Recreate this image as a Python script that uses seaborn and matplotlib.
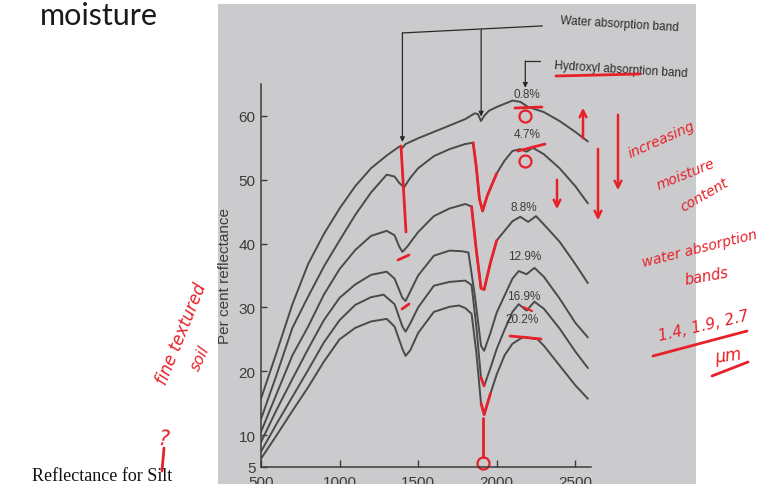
import pandas as pd
import matplotlib.pyplot as plt
import seaborn as sns
from matplotlib.lines import Line2D
from matplotlib.patches import Rectangle, FancyArrowPatch

# soil moisture curves (wavelength nm, % reflectance)
moisture = ["0.8%", "4.7%", "8.8%", "12.9%", "16.9%", "20.2%"]

wl_08 = [500, 600, 700, 800, 900, 1000, 1100, 1200, 1300, 1380, 1400, 1420, 1500, 1600, 1700,
         1800, 1860, 1880, 1900, 1920, 1950, 2000, 2100, 2150, 2200, 2250, 2300, 2400, 2500, 2580]
refl_08 = [15.7, 23, 30.5, 36.8, 41.5, 45.5, 49, 51.8, 53.8, 55.2, 55.0, 55.6, 56.5, 57.5, 58.5,
           59.5, 60.4, 60.3, 59.2, 60, 60.8, 61.4, 62.4, 62.2, 61.4, 61, 60.6, 59.2, 57.5, 56]

wl_47 = [500, 600, 700, 800, 900, 1000, 1100, 1200, 1300, 1350, 1380, 1410, 1450, 1500, 1600, 1700,
         1800, 1850, 1870, 1890, 1910, 1940, 2000, 2050, 2100, 2150, 2190, 2230, 2300, 2400, 2500, 2580]
refl_47 = [12.5, 19.5, 26.8, 31.7, 36.4, 40.5, 44.5, 48, 50.8, 50.5, 49.5, 48.8, 50.3, 51.8, 53.7, 54.8,
           55.6, 55.8, 52, 47, 45.1, 47.5, 51, 53, 54.5, 54.8, 54.4, 55, 54, 51.8, 49, 46.3]

wl_88 = [500, 600, 700, 800, 900, 1000, 1100, 1200, 1300, 1350, 1380, 1400, 1430, 1500, 1600, 1700,
         1800, 1840, 1870, 1900, 1920, 1960, 2000, 2100, 2150, 2200, 2250, 2300, 2400, 2500, 2580]
refl_88 = [10.5, 16.5, 22.5, 27, 32, 36, 39, 41.2, 42, 41.3, 39.5, 38.7, 39.5, 41.8, 44.3, 45.5,
           46.2, 45.8, 39, 33, 32.8, 37, 40.5, 43.5, 44.2, 43.4, 44.3, 43, 40.3, 36.8, 33.8]

wl_129 = [500, 600, 700, 800, 900, 1000, 1100, 1200, 1300, 1350, 1400, 1420, 1450, 1500, 1600, 1700,
          1780, 1820, 1860, 1900, 1920, 1960, 2000, 2100, 2140, 2190, 2240, 2300, 2400, 2500, 2580]
refl_129 = [8.9, 14, 18.8, 23.5, 28, 31.5, 33.6, 35.1, 35.6, 34.5, 31.5, 31, 32.5, 35, 38.1, 38.9,
            38.8, 38.6, 32, 24, 23.2, 26, 29.2, 34.5, 35.7, 35.2, 36.2, 34.8, 31.4, 27.6, 25.3]

wl_169 = [500, 600, 700, 800, 900, 1000, 1100, 1200, 1280, 1350, 1400, 1420, 1450, 1500, 1600, 1700,
          1800, 1840, 1870, 1900, 1920, 1960, 2000, 2050, 2100, 2140, 2190, 2240, 2300, 2400, 2500, 2580]
refl_169 = [7.4, 11.8, 16, 20.2, 24.5, 28, 30.4, 31.6, 32, 30.5, 27, 26.2, 27.5, 30, 33.4, 34,
            34.2, 33.5, 27, 19, 17.7, 20.5, 23.5, 26.5, 29.3, 30.5, 29.5, 30.9, 29.8, 26.7, 23.1, 20.5]

wl_202 = [500, 600, 700, 800, 900, 1000, 1100, 1200, 1300, 1350, 1400, 1420, 1450, 1500, 1600, 1700,
          1760, 1800, 1840, 1870, 1900, 1920, 1960, 2000, 2050, 2100, 2170, 2260, 2300, 2400, 2500, 2580]
refl_202 = [6.3, 10, 13.8, 17.5, 21.5, 25, 26.8, 27.8, 28.2, 27, 23.5, 22.4, 23.3, 26, 29.3, 30.1,
            30.3, 29.9, 29, 23, 15, 13.2, 16.5, 19.5, 22.5, 24.3, 25.4, 25, 24, 20.9, 17.8, 15.7]

# where each moisture label sits (wavelength, reflectance)
label_x = [2194, 2194, 2175, 2175, 2175, 2162]
label_y = [63.5, 57.2, 45.8, 38.0, 31.8, 28.2]

x_ticks = [500, 1000, 1500, 2000, 2500]
y_ticks = [5, 10, 20, 30, 40, 50, 60]

frames = []
for name, wl, rf in zip(moisture, [wl_08, wl_47, wl_88, wl_129, wl_169, wl_202],
                        [refl_08, refl_47, refl_88, refl_129, refl_169, refl_202]):
    frames.append(pd.DataFrame({"moisture": name, "wavelength": wl, "reflectance": rf}))
df = pd.concat(frames, ignore_index=True)

W, H = 764, 485
RED = "#e62129"
INK = "#3c3c3c"

sns.set_style("ticks")
plt.rcParams["font.family"] = ["Liberation Sans", "DejaVu Sans"]

fig = plt.figure(figsize=(W / 100, H / 100), dpi=100)
fig.patch.set_facecolor("white")


def px(x, y):
    # pixel position in the picture -> figure fraction
    return (x / W, 1 - y / H)


# the photographed page, kept behind the axes
fig.patches.append(Rectangle((218 / W, 0), (696 - 218) / W, 480 / H,
                             transform=fig.transFigure, facecolor="#cbcbcd",
                             edgecolor="none", zorder=-5))

ax = fig.add_axes([261 / W, 17 / H, 330 / W, 383 / H])
ax.set_facecolor("none")

sns.lineplot(data=df, x="wavelength", y="reflectance", hue="moisture",
             palette={m: "#4a4a4a" for m in moisture}, legend=False,
             estimator=None, linewidth=1.4, ax=ax)
for ln in ax.lines:
    ln.set_solid_joinstyle("round")

# red pen strokes over the absorption dips
red_spans = {"4.7%": (1850, 2000), "8.8%": (1840, 2000),
             "16.9%": (1890, 1940), "20.2%": (1890, 1960)}
for name, (lo, hi) in red_spans.items():
    part = df[(df.moisture == name) & (df.wavelength >= lo) & (df.wavelength <= hi)]
    sns.lineplot(data=part, x="wavelength", y="reflectance", color=RED,
                 linewidth=2, estimator=None, legend=False, ax=ax)

ax.set_xlim(500, 2600)
ax.set_ylim(5, 65)
ax.set_xticks(x_ticks)
ax.set_yticks(y_ticks)
sns.despine(ax=ax)
for s in ["left", "bottom"]:
    ax.spines[s].set_color(INK)
    ax.spines[s].set_linewidth(1.1)
ax.tick_params(axis="y", direction="in", length=4, width=1, colors=INK, labelsize=11, pad=4)
ax.tick_params(axis="x", direction="in", length=5, width=1, colors=INK, labelsize=11, pad=6)
ax.set_xlabel("")
ax.set_ylabel("Per cent reflectance", fontsize=11, color=INK)
ax.yaxis.set_label_coords(-0.088, 0.5)

for name, lx, ly in zip(moisture, label_x, label_y):
    ax.text(lx, ly, name, fontsize=8.5, color=INK, ha="center", va="center")

# leader arrows for the absorption bands
lead = dict(color="#2a2a2a", lw=0.9)
ax.plot([1400, 2290], [73.0, 74.1], clip_on=False, **lead)
for xa, ytop, ytip in [(1400, 73.0, 55.9), (1901, 73.5, 59.9), (2182, 68.6, 64.4)]:
    ax.annotate("", xy=(xa, ytip), xytext=(xa, ytop), annotation_clip=False,
                arrowprops=dict(arrowstyle="-|>", color="#2a2a2a", lw=0.9,
                                mutation_scale=7, shrinkA=0, shrinkB=0))
ax.plot([2182, 2277], [68.6, 68.6], clip_on=False, **lead)
ax.text(2405, 75.1, "Water absorption band", fontsize=8.5, color="#2a2a2a",
        ha="left", va="center", rotation=-3.5, rotation_mode="anchor")
ax.text(2366, 68.0, "Hydroxyl absorption band", fontsize=8.5, color="#2a2a2a",
        ha="left", va="center", rotation=-3.5, rotation_mode="anchor")

# slide text
fig.text(40 / W, 1 - 16 / H, "moisture", fontsize=22, family="Lato", color="#1a1a1a",
         ha="left", va="center")
fig.text(32 / W, 1 - 481 / H, "Reflectance for Silt", fontsize=13, family="Liberation Serif",
         color="#111111", ha="left", va="baseline")

# handwritten red notes
hand = dict(color=RED, style="italic", family="DejaVu Sans", ha="center", va="center")
fig.text(*px(661, 140), "increasing", fontsize=10, rotation=24, **hand)
fig.text(*px(686, 175), "moisture", fontsize=10, rotation=22, **hand)
fig.text(*px(704, 195), "content", fontsize=10, rotation=30, **hand)
fig.text(*px(700, 249), "water absorption", fontsize=10, rotation=14, **hand)
fig.text(*px(707, 277), "bands", fontsize=10.5, rotation=10, **hand)
fig.text(*px(704, 326), "1.4, 1.9, 2.7", fontsize=11, rotation=13, **hand)
fig.text(*px(728, 356), "µm", fontsize=12, rotation=8, **hand)
fig.text(*px(182, 334), "fine textured", fontsize=12, rotation=68, **hand)
fig.text(*px(200, 358), "soil", fontsize=11, rotation=65, **hand)
fig.text(*px(164, 440), "?", fontsize=15, rotation=-5, **hand)


def red_line(p0, p1, lw=2):
    fig.add_artist(Line2D([p0[0] / W, p1[0] / W], [1 - p0[1] / H, 1 - p1[1] / H],
                          transform=fig.transFigure, color=RED, lw=lw, solid_capstyle="round"))


def red_arrow(p0, p1):
    fig.add_artist(FancyArrowPatch(px(*p0), px(*p1), transform=fig.transFigure,
                                   arrowstyle="->", mutation_scale=12, color=RED, lw=1.8))


red_line((556, 77), (640, 75))            # under "Hydroxyl"
red_line((653, 357), (747, 332))          # under band list
red_line((712, 377), (748, 363))          # under µm
red_line((164, 449), (162, 472))
red_line((401, 147), (406, 233))          # 1.4 µm stroke
red_line((398, 261), (409, 256))
red_line((402, 310), (409, 305))
red_line((515, 109), (542, 108))          # under 0.8%
red_line((518, 152), (545, 145))          # under 4.7%
red_line((510, 337), (541, 340))          # under 20.2%
red_line((523, 308), (532, 312), lw=1.6)  # under 16.9%
red_line((483, 419), (483, 458))          # down to the axis
red_arrow((583, 142), (583, 106))
red_arrow((598, 147), (598, 224))
red_arrow((618, 113), (618, 194))
red_arrow((557, 178), (557, 213))
for cx, cy, r in [(525, 117, 6), (525, 162, 6), (483, 464, 6)]:
    ax.plot(*ax.transData.inverted().transform(fig.transFigure.transform(px(cx, cy))),
            marker="o", ms=2 * r * 0.72, mfc="none", mec=RED, mew=1.6, clip_on=False)

fig.savefig("out.png", dpi=100)
